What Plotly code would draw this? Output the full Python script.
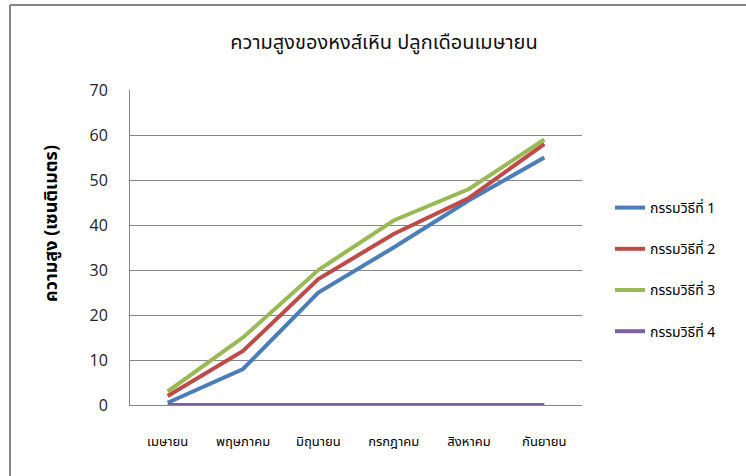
import plotly.graph_objects as go

months = ["เมษายน", "พฤษภาคม", "มิถุนายน", "กรกฎาคม", "สิงหาคม", "กันยายน"]
series_names = ["กรรมวิธีที่ 1", "กรรมวิธีที่ 2", "กรรมวิธีที่ 3", "กรรมวิธีที่ 4"]
m1 = [0.5, 8, 25, 35, 45.5, 55]
m2 = [2, 12, 28, 38, 46, 58]
m3 = [3, 15, 30, 41, 48, 59]
m4 = [0, 0, 0, 0, 0, 0]
colors = ["#4A7EBB", "#BE4B48", "#98B954", "#7D60A0"]
y_ticks = [0, 10, 20, 30, 40, 50, 60, 70]
y_title = "ความสูง (เซนติเมตร)"
chart_title = "ความสูงของหงส์เหิน ปลูกเดือนเมษายน"

thai_font = "Noto Sans Thai, Tahoma, DejaVu Sans, sans-serif"

fig = go.Figure()
for i, (name, vals) in enumerate(zip(series_names, [m1, m2, m3, m4])):
    fig.add_trace(go.Scatter(
        x=months, y=vals, name=name, mode="lines",
        line=dict(color=colors[i], width=4),
        legendgroup=f"g{i}",
    ))

fig.update_layout(
    width=746, height=476,
    margin=dict(l=130, r=164, t=90, b=71),
    paper_bgcolor="white", plot_bgcolor="white",
    title=dict(text=chart_title,
               x=384 / 746, xanchor="center", xref="container",
               y=1 - 42 / 476, yanchor="middle", yref="container",
               font=dict(family=thai_font, size=20, color="#111")),
    showlegend=True,
    legend=dict(xref="container", yref="container",
                x=610 / 746, y=1 - 192 / 476, xanchor="left", yanchor="top",
                font=dict(family=thai_font, size=14, color="#000"),
                tracegroupgap=20, traceorder="grouped",
                bgcolor="rgba(0,0,0,0)"),
    xaxis=dict(type="category", range=[-0.5, 5.5],
               showgrid=False, showline=True, linecolor="#868686", linewidth=1,
               ticks="outside", ticklen=24, tickcolor="rgba(0,0,0,0)",
               tickfont=dict(family=thai_font, size=13, color="#000"),
               fixedrange=True),
    yaxis=dict(range=[0, 70], tickvals=y_ticks,
               showgrid=True, gridcolor="#868686", gridwidth=1,
               showline=True, linecolor="#868686", linewidth=1,
               zeroline=False,
               ticks="", ticklabelstandoff=18,
               tickfont=dict(family="Open Sans, sans-serif", size=16, color="#222"),
               fixedrange=True),
    annotations=[
        dict(text=y_title, textangle=-90, showarrow=False,
             xref="paper", yref="paper",
             x=-79 / 452, y=(405 - 224) / 315, xanchor="center", yanchor="middle",
             font=dict(family=thai_font, size=18, color="#000", weight="bold")),
    ],
    shapes=[
        dict(type="line", xref="paper", yref="paper",
             x0=-120 / 452, x1=616 / 452, y0=1 + 85 / 315, y1=1 + 85 / 315,
             line=dict(color="#868686", width=2)),
        dict(type="line", xref="paper", yref="paper",
             x0=-120 / 452, x1=-120 / 452, y0=1 + 85 / 315, y1=-71 / 315,
             line=dict(color="#868686", width=2)),
    ],
)

fig.write_html("out.html")
